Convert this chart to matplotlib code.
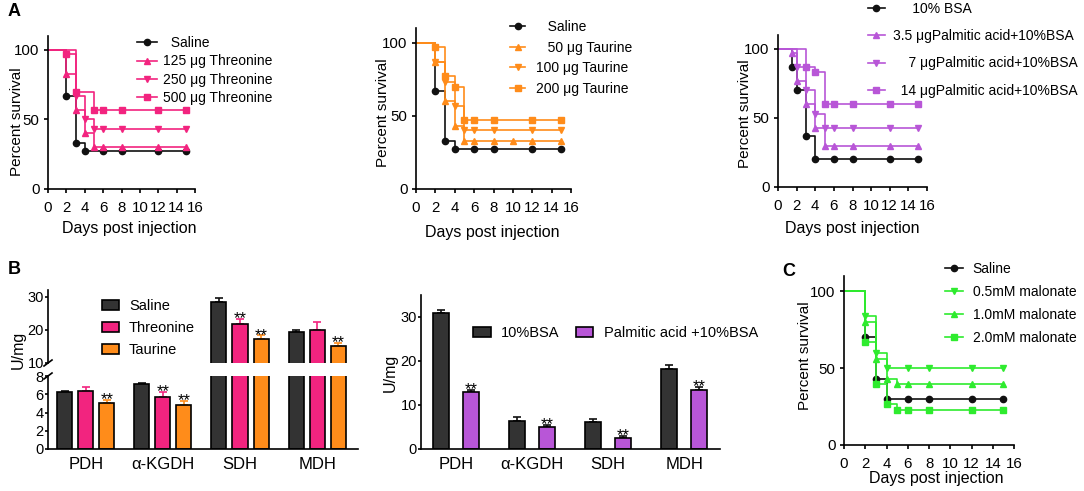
import numpy as np
import matplotlib
matplotlib.use("Agg")
import matplotlib.pyplot as plt

plt.rcParams['font.family'] = ['Liberation Sans', 'DejaVu Sans']
plt.rcParams['axes.linewidth'] = 1.2

W, H = 1084, 491

# ---- survival data (A, C) ----
thr_t = [[0, 2, 3, 4, 6, 8, 12, 15],
         [0, 2, 3, 4, 5, 6, 8, 12, 15],
         [0, 3, 4, 5, 6, 8, 12, 15],
         [0, 2, 3, 5, 6, 8, 12, 15]]
thr_s = [[100, 67, 33, 27, 27, 27, 27, 27],
         [100, 83, 57, 40, 30, 30, 30, 30, 30],
         [100, 67, 50, 43, 43, 43, 43, 43],
         [100, 97, 70, 57, 57, 57, 57, 57]]
thr_labels = ['  Saline', '125 μg Threonine', '250 μg Threonine', '500 μg Threonine']

tau_t = [[0, 2, 3, 4, 6, 8, 12, 15],
         [0, 2, 3, 4, 5, 6, 8, 10, 12, 15],
         [0, 2, 3, 4, 5, 6, 8, 12, 15],
         [0, 2, 3, 4, 5, 6, 8, 12, 15]]
tau_s = [[100, 67, 33, 27, 27, 27, 27, 27],
         [100, 87, 60, 43, 33, 33, 33, 33, 33, 33],
         [100, 87, 73, 57, 40, 40, 40, 40, 40],
         [100, 97, 77, 70, 47, 47, 47, 47, 47]]
tau_labels = ['   Saline', '   50 μg Taurine', '100 μg Taurine', '200 μg Taurine']

pa_t = [[0, 1.5, 2, 3, 4, 6, 8, 12, 15],
        [0, 1.5, 2, 3, 4, 5, 6, 8, 12, 15],
        [0, 2, 3, 4, 5, 6, 8, 12, 15],
        [0, 3, 4, 5, 6, 8, 12, 15]]
pa_s = [[100, 87, 70, 37, 20, 20, 20, 20, 20],
        [100, 97, 77, 60, 43, 30, 30, 30, 30, 30],
        [100, 87, 70, 53, 43, 43, 43, 43, 43],
        [100, 87, 83, 60, 60, 60, 60, 60]]
pa_labels = ['     10% BSA', '3.5 μgPalmitic acid+10%BSA',
             '    7 μgPalmitic acid+10%BSA', '  14 μgPalmitic acid+10%BSA']

mal_t = [[0, 2, 3, 4, 6, 8, 12, 15],
         [0, 2, 3, 4, 6, 8, 12, 15],
         [0, 2, 3, 4, 5, 6, 8, 12, 15],
         [0, 2, 3, 4, 5, 6, 8, 12, 15]]
mal_s = [[100, 70, 43, 30, 30, 30, 30, 30],
         [100, 84, 60, 50, 50, 50, 50, 50],
         [100, 80, 56, 43, 40, 40, 40, 40, 40],
         [100, 67, 40, 27, 23, 23, 23, 23, 23]]
mal_labels = ['Saline', '0.5mM malonate', '1.0mM malonate', '2.0mM malonate']

# ---- enzyme activity data (B) ----
enzymes = ['PDH', 'α-KGDH', 'SDH', 'MDH']
saline_act = [6.2, 7.1, 28.3, 19.3]
saline_err = [0.2, 0.1, 1.4, 0.7]
thr_act = [6.4, 5.75, 21.7, 20.0]
thr_err = [0.35, 0.45, 1.5, 2.4]
tau_act = [5.0, 4.8, 17.2, 15.2]
tau_err = [0.4, 0.5, 1.1, 0.8]
thr_stars = [False, True, True, False]
tau_stars = [True, True, True, True]

bsa_act = [30.8, 6.4, 6.1, 18.2]
bsa_err = [0.7, 0.8, 0.8, 1.0]
pal_act = [12.9, 4.9, 2.6, 13.4]
pal_err = [0.6, 0.5, 0.3, 0.7]

BLACK = '#111111'
PINK = '#F2247F'
ORANGE = '#FF8C1A'
PURPLE = '#B856D7'
GREEN = '#2EEB2E'
DARK = '#333333'


def rect(x0, y0, x1, y1):
    return [x0 / W, 1 - y1 / H, (x1 - x0) / W, (y1 - y0) / H]


def fpos(x, y):
    return x / W, 1 - y / H


fig = plt.figure(figsize=(W / 100, H / 100), dpi=100)


def survival(r, times, survs, color, labels, leg_xy, leg_opts):
    ax = fig.add_axes(rect(*r))
    colors = [BLACK, color, color, color]
    markers = ['o', '^', 'v', 's']
    if labels[1].startswith('0.5'):
        markers = ['o', 'v', '^', 's']
    for t, s, c, m, lab in zip(times, survs, colors, markers, labels):
        ax.step(t, s, where='post', color=c, lw=1.2)
        ax.plot(t[1:], s[1:], ls='none', marker=m, color=c, ms=4.5)
        ax.plot([], [], color=c, marker=m, ms=4.5, lw=1.2, label=lab)
    ax.set_xlim(0, 16)
    ax.set_ylim(0, 110)
    ax.set_xticks(range(0, 17, 2))
    ax.set_yticks([0, 50, 100])
    ax.tick_params(labelsize=10.8, length=3, width=1.2, pad=3)
    ax.tick_params(axis='x', pad=6)
    for sp in ['top', 'right']:
        ax.spines[sp].set_visible(False)
    ax.legend(loc='upper left', bbox_to_anchor=fpos(*leg_xy), bbox_transform=fig.transFigure,
              frameon=False, borderpad=0, borderaxespad=0, fontsize=10, **leg_opts)
    return ax


survival((48, 36, 195, 189), thr_t, thr_s, PINK, thr_labels, (137, 36),
         dict(handlelength=1.45, handletextpad=0.45, labelspacing=0.32))
survival((416, 28, 571, 189), tau_t, tau_s, ORANGE, tau_labels, (510, 20),
         dict(handlelength=1.1, handletextpad=0.8, labelspacing=0.47))
survival((778, 35, 927, 187), pa_t, pa_s, PURPLE, pa_labels, (868, 2),
         dict(handlelength=1.2, handletextpad=0.6, labelspacing=0.95))
survival((844, 276, 1014, 445), mal_t, mal_s, GREEN, mal_labels, (945, 262),
         dict(handlelength=1.3, handletextpad=0.7, labelspacing=0.65))

# axis labels and panel letters
for x, y in [(17, 122), (383, 113), (745, 114), (805, 356)]:
    fig.text(*fpos(x, y), 'Percent survival', rotation=90, ha='center', va='center', fontsize=11)
for x, y in [(129, 228), (492, 232), (852, 228), (936, 478)]:
    fig.text(*fpos(x, y), 'Days post injection', ha='center', va='center', fontsize=11.5)
for x, y in [(18, 350), (390, 373)]:
    fig.text(*fpos(x, y), 'U/mg', rotation=90, ha='center', va='center', fontsize=11.5)
for x, y, s in [(14, 12, 'A'), (14, 270, 'B'), (789, 272, 'C')]:
    fig.text(*fpos(x, y), s, ha='center', va='center', fontsize=13, fontweight='bold')


def draw_bars(ax, x, vals, errs, color, ecolor, width):
    bars = ax.bar(x, vals, width, color=color, edgecolor='black', lw=1.2, zorder=2)
    ax.errorbar(x, vals, yerr=[np.zeros(len(vals)), errs], fmt='none', ecolor=ecolor,
                elinewidth=1.2, capsize=3, capthick=1.2, zorder=1)
    return bars


def stars(ax, x, vals, errs, flags):
    for xi, v, e, f in zip(x, vals, errs, flags):
        if f:
            ax.annotate('**', (xi, v + e), xytext=(0, -3), textcoords='offset points',
                        ha='center', va='baseline', fontsize=12, annotation_clip=False)


# ---- B left: broken axis ----
g = np.arange(len(enzymes))
off, bw = 0.273, 0.195
ax_lo = fig.add_axes(rect(48, 376, 358, 449))
ax_hi = fig.add_axes(rect(48, 290, 358, 363))
for ax in (ax_lo, ax_hi):
    b1 = draw_bars(ax, g - off, saline_act, saline_err, DARK, BLACK, bw)
    b2 = draw_bars(ax, g, thr_act, thr_err, PINK, PINK, bw)
    b3 = draw_bars(ax, g + off, tau_act, tau_err, ORANGE, ORANGE, bw)
    ax.set_xlim(-0.49, 3.53)
    for sp in ['top', 'right']:
        ax.spines[sp].set_visible(False)
    ax.tick_params(labelsize=10.5, length=2, width=1.2, pad=1)
ax_lo.set_ylim(0, 8)
ax_lo.set_yticks([0, 2, 4, 6, 8])
ax_lo.set_xticks(g)
ax_lo.set_xticklabels(enzymes, fontsize=12)
ax_lo.tick_params(axis='x', length=0, pad=6)
ax_hi.set_ylim(10, 32)
ax_hi.set_yticks([10, 20, 30])
ax_hi.set_xticks([])
ax_hi.spines['bottom'].set_visible(False)
stars(ax_lo, g, thr_act, thr_err, [thr_stars[i] and thr_act[i] < 8 for i in g])
stars(ax_lo, g + off, tau_act, tau_err, [tau_stars[i] and tau_act[i] < 8 for i in g])
stars(ax_hi, g, thr_act, thr_err, [thr_stars[i] and thr_act[i] > 10 for i in g])
stars(ax_hi, g + off, tau_act, tau_err, [tau_stars[i] and tau_act[i] > 10 for i in g])
dx, dy = 4 / 310, 3 / 73
for ax, yb in [(ax_lo, 1), (ax_hi, 0)]:
    ax.plot([-dx, dx], [yb - dy, yb + dy], transform=ax.transAxes, color='black', lw=1.2, clip_on=False)
ax_hi.legend(handles=[b1, b2, b3], labels=['Saline', 'Threonine', 'Taurine'],
             loc='upper left', bbox_to_anchor=fpos(102, 299), bbox_transform=fig.transFigure,
             frameon=False, borderpad=0, borderaxespad=0, fontsize=10.5,
             handlelength=1.15, handleheight=0.7, handletextpad=0.7, labelspacing=0.55)

# ---- B right ----
ax_b2 = fig.add_axes(rect(421, 295, 720, 449))
off2, bw2 = 0.197, 0.21
c1 = draw_bars(ax_b2, g - off2, bsa_act, bsa_err, DARK, BLACK, bw2)
c2 = draw_bars(ax_b2, g + off2, pal_act, pal_err, PURPLE, BLACK, bw2)
stars(ax_b2, g + off2, pal_act, pal_err, [True] * 4)
ax_b2.set_xlim(-0.46, 3.47)
ax_b2.set_ylim(0, 35)
ax_b2.set_yticks([0, 10, 20, 30])
ax_b2.set_xticks(g)
ax_b2.set_xticklabels(enzymes)
ax_b2.tick_params(labelsize=10.5, length=2, width=1.2, pad=1)
ax_b2.tick_params(axis='x', length=0, pad=6, labelsize=12)
for sp in ['top', 'right']:
    ax_b2.spines[sp].set_visible(False)
ax_b2.legend(handles=[c1, c2], labels=['10%BSA', 'Palmitic acid +10%BSA'],
             ncol=2, loc='upper left', bbox_to_anchor=fpos(473, 326), bbox_transform=fig.transFigure,
             frameon=False, borderpad=0, borderaxespad=0, fontsize=10.5,
             handlelength=1.2, handleheight=0.7, handletextpad=0.7, columnspacing=1.15)

fig.savefig('out.png', dpi=100)
